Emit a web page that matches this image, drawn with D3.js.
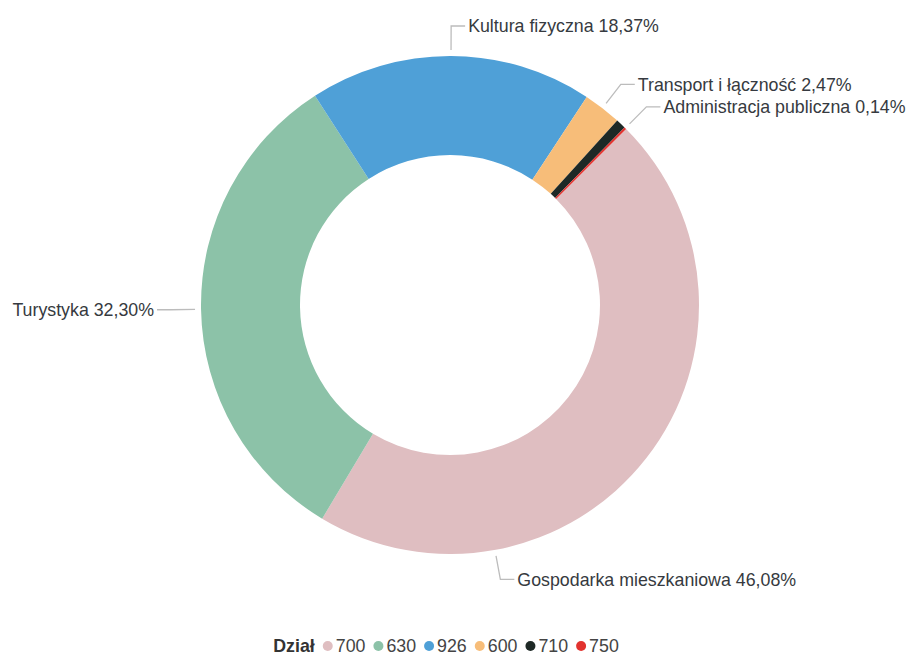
<!DOCTYPE html>
<html>
<head>
<meta charset="utf-8">
<script src="https://cdn.jsdelivr.net/npm/d3@7"></script>
<style>
  body { margin: 0; background: #fff; }
  text { font-family: "Liberation Sans", Arial, sans-serif; }
</style>
</head>
<body>
<div id="chart"></div>
<script>
// data (percent shares, "Dział" codes)
var codes = ["700", "630", "926", "600", "710", "750"];
var names = ["Gospodarka mieszkaniowa", "Turystyka", "Kultura fizyczna",
  "Transport i łączność", "Działalność usługowa", "Administracja publiczna"];
var shares = [46.08, 32.30, 18.37, 2.47, 0.64, 0.14];
var colors = ["#dfbec1", "#8cc2a8", "#4fa0d7", "#f7bd79", "#1e2926", "#e2332f"];
var hiddenLabels = ["710"];

var svgWidth = 908;
var svgHeight = 655;
var cx = 450, cy = 305;
var outerR = 249, innerR = 150;
var fontSize = "17.8px";

// the big slice has its leader pulled down towards the bottom
var labelAngleOverride = { "700": 169.6 * Math.PI / 180 };

var data = codes.map(function(c, i) {
  return { code: c, name: names[i], value: shares[i], color: colors[i] };
});

var svg = d3.select("#chart")
  .append("svg")
  .attr("width", svgWidth)
  .attr("height", svgHeight);

var chartGroup = svg.append("g")
  .attr("transform", `translate(${cx}, ${cy})`);

var pie = d3.pie()
  .sort(null)
  .value(d => d.value)
  .startAngle(Math.PI / 4)
  .endAngle(Math.PI / 4 + 2 * Math.PI);

var arc = d3.arc()
  .innerRadius(innerR)
  .outerRadius(outerR);

var arcs = pie(data);

chartGroup.selectAll("path.slice")
  .data(arcs)
  .enter()
  .append("path")
  .attr("class", "slice")
  .attr("d", arc)
  .attr("fill", d => d.data.color);

// labels with elbow leader lines
var fmt = d3.format(".2f");
var pointAt = function(a, r) { return [r * Math.sin(a), -r * Math.cos(a)]; };

var labelled = arcs.filter(d => hiddenLabels.indexOf(d.data.code) < 0);

labelled.forEach(function(d) {
  var a = labelAngleOverride[d.data.code] !== undefined
    ? labelAngleOverride[d.data.code]
    : (d.startAngle + d.endAngle) / 2;
  var p1 = pointAt(a, outerR + 6);
  var p2 = pointAt(a, outerR + 30);
  var right = p2[0] >= 0;
  var p3 = [p2[0] + (right ? 14 : -14), p2[1]];

  chartGroup.append("polyline")
    .attr("points", [p1, p2, p3].map(p => p.join(",")).join(" "))
    .attr("fill", "none")
    .attr("stroke", "#bcbcbc")
    .attr("stroke-width", 1.3);

  chartGroup.append("text")
    .attr("x", p3[0] + (right ? 3 : -3))
    .attr("y", p3[1])
    .attr("dy", "0.35em")
    .attr("text-anchor", right ? "start" : "end")
    .attr("font-size", fontSize)
    .attr("fill", "#363a40")
    .text(d.data.name + " " + fmt(d.data.value).replace(".", ",") + "%");
});

// legend
var legend = svg.append("g");
var lx = 0;
var title = legend.append("text")
  .attr("x", 0)
  .attr("y", 0)
  .attr("dy", "0.35em")
  .attr("font-size", fontSize)
  .attr("font-weight", "bold")
  .attr("fill", "#333")
  .text("Dział");
lx = title.node().getComputedTextLength() + 13;

data.forEach(function(d) {
  legend.append("circle")
    .attr("cx", lx)
    .attr("cy", 0)
    .attr("r", 5)
    .attr("fill", d.color);
  var t = legend.append("text")
    .attr("x", lx + 8)
    .attr("y", 0)
    .attr("dy", "0.35em")
    .attr("font-size", fontSize)
    .attr("fill", "#444")
    .text(d.code);
  lx += 8 + t.node().getComputedTextLength() + 13;
});
var legendW = lx - 13;
legend.attr("transform", `translate(${446 - legendW / 2}, 646)`);
</script>
</body>
</html>
